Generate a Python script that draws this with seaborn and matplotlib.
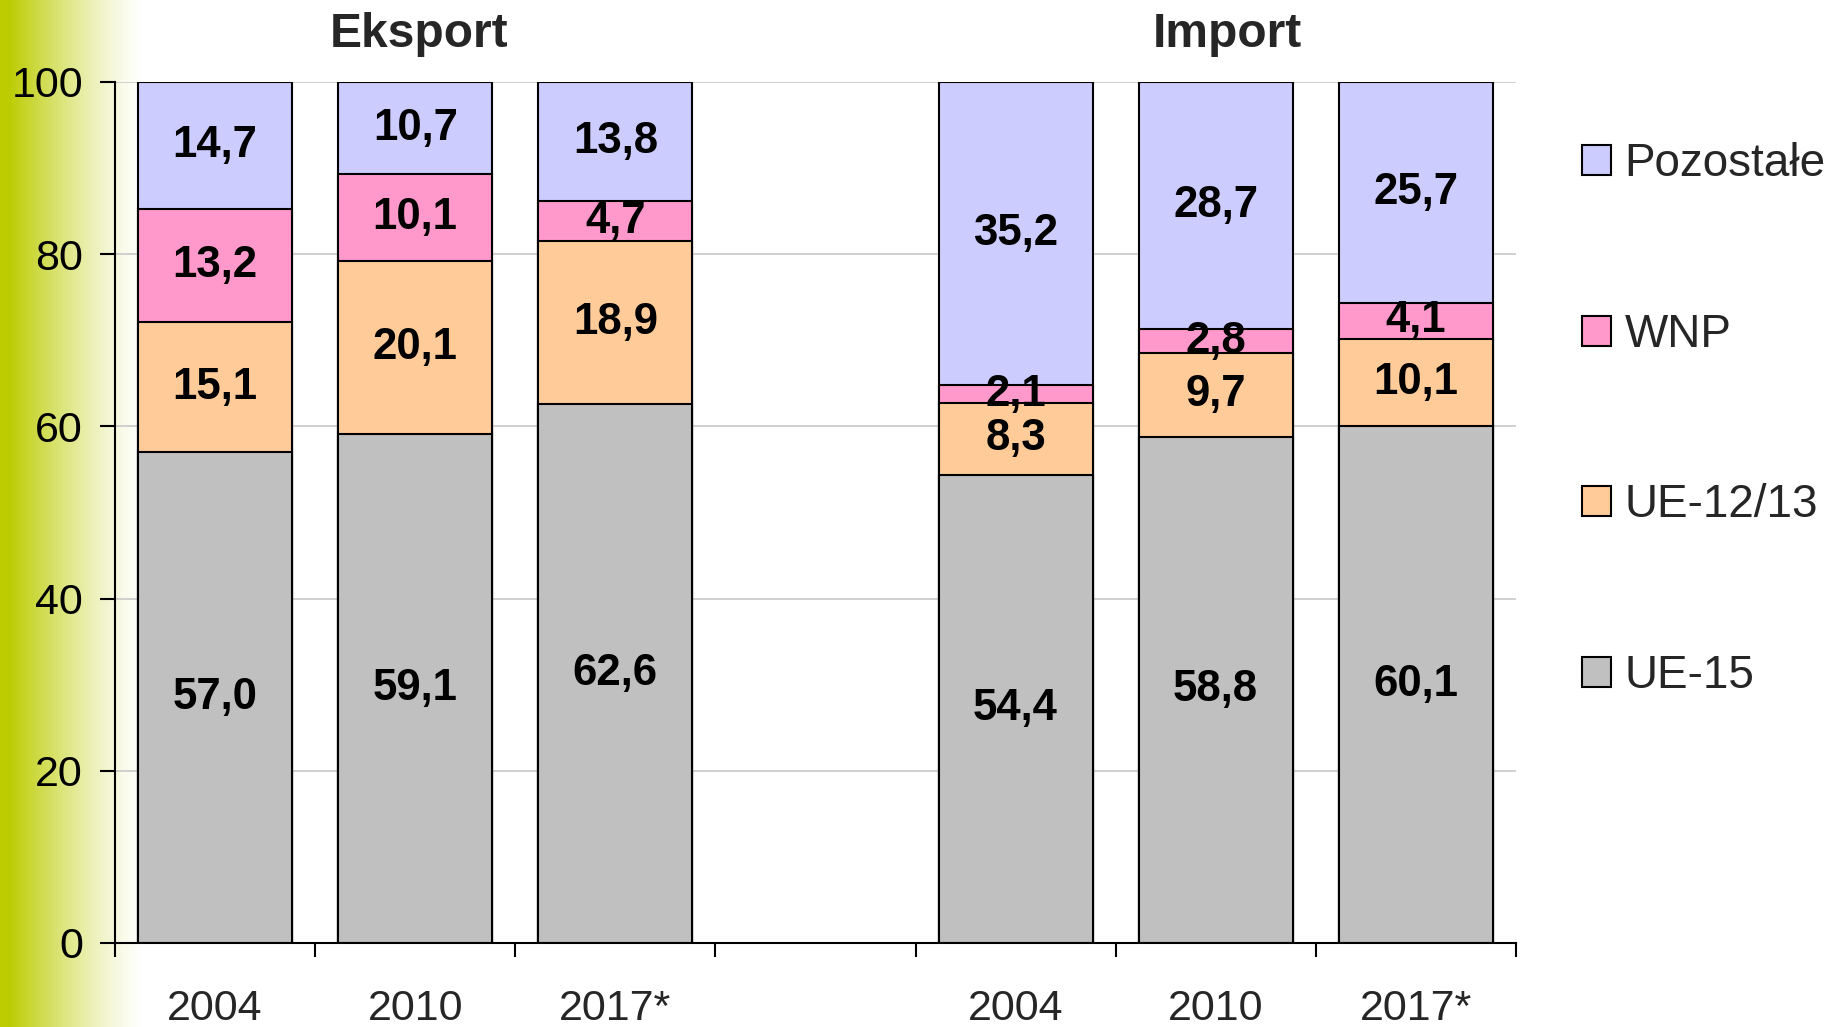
import numpy as np
import pandas as pd
import matplotlib
matplotlib.use("Agg")
import matplotlib.pyplot as plt
import matplotlib.transforms as mtransforms
from matplotlib.patches import Patch
import seaborn as sns

# data
years = ["2004", "2010", "2017*"]
series = ["UE-15", "UE-12/13", "WNP", "Pozostałe"]
colors = ["#C0C0C0", "#FFCC99", "#FF99CC", "#CCCCFF"]

eksport = {
    "UE-15": [57.0, 59.1, 62.6],
    "UE-12/13": [15.1, 20.1, 18.9],
    "WNP": [13.2, 10.1, 4.7],
    "Pozostałe": [14.7, 10.7, 13.8],
}
import_ = {
    "UE-15": [54.4, 58.8, 60.1],
    "UE-12/13": [8.3, 9.7, 10.1],
    "WNP": [2.1, 2.8, 4.1],
    "Pozostałe": [35.2, 28.7, 25.7],
}

sns.set_theme(style="white")
plt.rcParams["font.family"] = ["Liberation Sans", "DejaVu Sans"]

# long table, one row per bar segment
rows = []
for grp, d in [("Eksport", eksport), ("Import", import_)]:
    for i, y in enumerate(years):
        cum = 0.0
        for s in series:
            v = d[s][i]
            rows.append({"slot": f"{grp} {y}", "series": s, "value": v,
                         "bottom": cum, "cum": cum + v})
            cum += v
df = pd.DataFrame(rows)

order = [f"Eksport {y}" for y in years] + ["gap"] + [f"Import {y}" for y in years]

fig = plt.figure(figsize=(18.37, 10.27), dpi=100)

# green gradient strip on the left
bg = fig.add_axes([0, 0, 1, 1], zorder=0)
bg.set_axis_off()
w = 1837
xs = np.arange(w)
fade = np.clip(1 - (xs - 8) / 135.0, 0, 1) ** 1.3
base = np.array([188, 204, 0]) / 255.0
grad = np.ones((1, w, 3)) * (1 - fade[None, :, None]) + base[None, None, :] * fade[None, :, None]
bg.imshow(grad, aspect="auto", extent=[0, 1, 0, 1])
bg.set_xlim(0, 1)
bg.set_ylim(0, 1)

ax = fig.add_axes([0.0626, 0.0818, 0.7626, 0.8384], zorder=1)
ax.patch.set_alpha(0)

# stacked bars: draw cumulative totals from top series down
for s, c in reversed(list(zip(series, colors))):
    sub = df[df["series"] == s]
    sns.barplot(data=sub, x="slot", y="cum", order=order, color=c, saturation=1,
                edgecolor="black", linewidth=1.5, width=0.77, ax=ax, zorder=2)

# value labels
pos = {k: i for i, k in enumerate(order)}
for _, r in df.iterrows():
    ax.text(pos[r["slot"]], r["bottom"] + r["value"] / 2,
            f"{r['value']:.1f}".replace(".", ","),
            ha="center", va="center", fontsize=31.5, fontweight="bold",
            color="black", zorder=5)

ax.set_xlim(-0.5, 6.5)
ax.set_ylim(0, 100)
ax.set_yticks(np.arange(0, 101, 20))
ax.yaxis.grid(True, color="#C8C8C8", linewidth=1.2, zorder=0)
ax.set_axisbelow(True)
ax.tick_params(axis="y", labelsize=31, direction="out", length=11, width=1.5,
               left=True, pad=12, colors="black")

ax.set_xticks(range(len(order)))
ax.set_xticklabels(years + [""] + years)
ax.set_xticks(np.arange(-0.5, 7, 1), minor=True)
ax.tick_params(axis="x", which="major", length=0, labelsize=31, pad=33)
ax.tick_params(axis="x", which="minor", length=10, width=1.5, direction="out",
               bottom=True, color="black")
ax.set_xlabel("")
ax.set_ylabel("")

for side in ["top", "right"]:
    ax.spines[side].set_visible(False)
for side in ["left", "bottom"]:
    ax.spines[side].set_color("black")
    ax.spines[side].set_linewidth(1.5)

# group titles
trans = mtransforms.blended_transform_factory(ax.transData, ax.transAxes)
ax.text(1.02, 1.055, "Eksport", transform=trans, ha="center", va="center",
        fontsize=34.5, fontweight="bold")
ax.text(5.06, 1.055, "Import", transform=trans, ha="center", va="center",
        fontsize=34.5, fontweight="bold")

# legend
handles = [Patch(facecolor=c, edgecolor="black", linewidth=1.5, label=s)
           for s, c in zip(series, colors)][::-1]
fig.legend(handles=handles, loc="center left", bbox_to_anchor=(0.839, 0.591),
           frameon=False, fontsize=33, labelspacing=2.76,
           handlelength=0.62, handleheight=0.62, handletextpad=0.3)

fig.savefig("out.png", dpi=100)
